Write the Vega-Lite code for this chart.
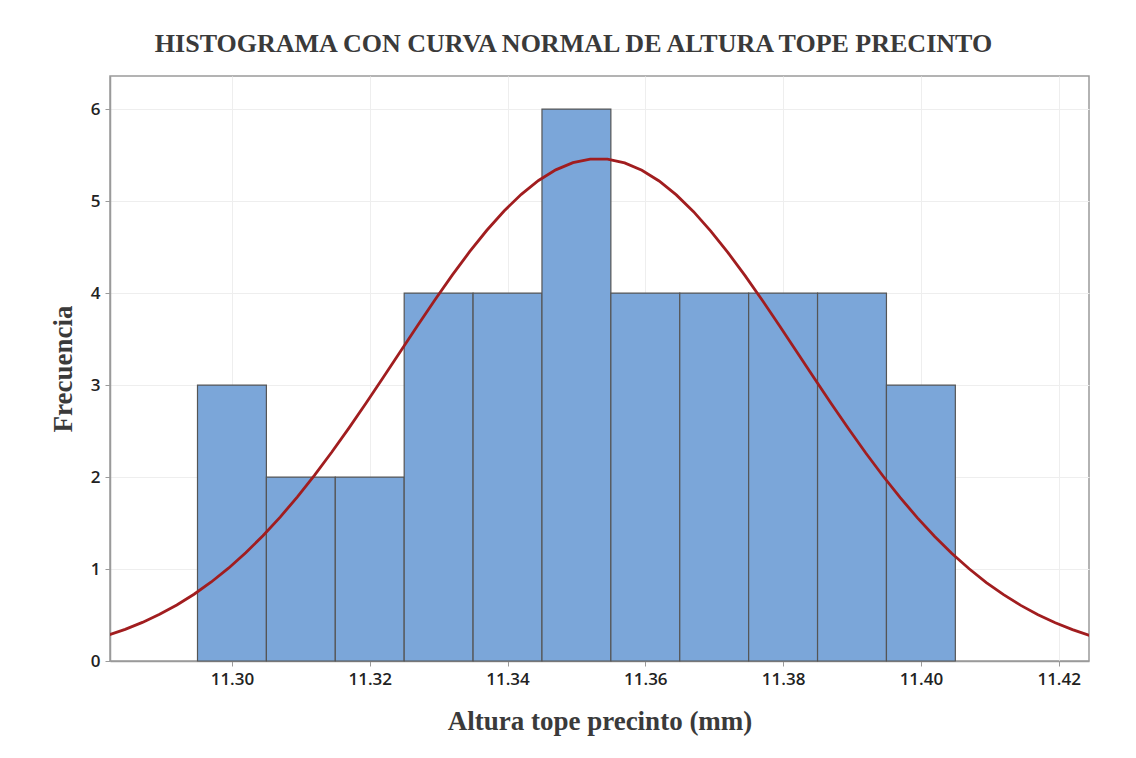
{
  "$schema": "https://vega.github.io/schema/vega-lite/v6.json",
  "autosize": {"type": "none"},
  "padding": {"left": 110, "top": 76, "right": 47, "bottom": 97},
  "width": 979,
  "height": 585,
  "background": "white",
  "title": {
    "text": "HISTOGRAMA CON CURVA NORMAL DE ALTURA TOPE PRECINTO",
    "font": "Liberation Serif",
    "fontSize": 26,
    "fontWeight": "bold",
    "color": "#3a3a3a",
    "anchor": "middle",
    "frame": "group",
    "baseline": "alphabetic",
    "offset": -2,
    "dx": -26
  },
  "config": {
    "view": {"stroke": "#9a9a9a", "strokeWidth": 1.5},
    "axis": {
      "gridColor": "#eeeeee",
      "gridWidth": 1,
      "domainColor": "#9a9a9a",
      "domainWidth": 1.5,
      "tickColor": "#9a9a9a",
      "tickSize": 5,
      "labelFont": "Open Sans",
      "labelFontSize": 17,
      "labelFontWeight": 600,
      "labelColor": "#222222",
      "titleFont": "Liberation Serif",
      "titleFontSize": 27,
      "titleFontWeight": "bold",
      "titleColor": "#3a3a3a"
    }
  },
  "datasets": {
    "bins": [
      {"lo": 11.295, "hi": 11.305, "count": 3},
      {"lo": 11.305, "hi": 11.315, "count": 2},
      {"lo": 11.315, "hi": 11.325, "count": 2},
      {"lo": 11.325, "hi": 11.335, "count": 4},
      {"lo": 11.335, "hi": 11.345, "count": 4},
      {"lo": 11.345, "hi": 11.355, "count": 6},
      {"lo": 11.355, "hi": 11.365, "count": 4},
      {"lo": 11.365, "hi": 11.375, "count": 4},
      {"lo": 11.375, "hi": 11.385, "count": 4},
      {"lo": 11.385, "hi": 11.395, "count": 4},
      {"lo": 11.395, "hi": 11.405, "count": 3}
    ],
    "curve": [
      {"x": 11.2820, "f": 0.2805}, {"x": 11.2845, "f": 0.3443}, {"x": 11.2870, "f": 0.4194},
      {"x": 11.2895, "f": 0.5074}, {"x": 11.2920, "f": 0.6091}, {"x": 11.2945, "f": 0.7260},
      {"x": 11.2970, "f": 0.8589}, {"x": 11.2995, "f": 1.0088}, {"x": 11.3020, "f": 1.1765},
      {"x": 11.3045, "f": 1.3618}, {"x": 11.3070, "f": 1.5646}, {"x": 11.3095, "f": 1.7846},
      {"x": 11.3120, "f": 2.0208}, {"x": 11.3145, "f": 2.2719}, {"x": 11.3170, "f": 2.5351},
      {"x": 11.3195, "f": 2.8082}, {"x": 11.3220, "f": 3.0879}, {"x": 11.3245, "f": 3.3711},
      {"x": 11.3270, "f": 3.6533}, {"x": 11.3295, "f": 3.9303}, {"x": 11.3320, "f": 4.1973},
      {"x": 11.3345, "f": 4.4496}, {"x": 11.3370, "f": 4.6830}, {"x": 11.3395, "f": 4.8927},
      {"x": 11.3420, "f": 5.0740}, {"x": 11.3445, "f": 5.2243}, {"x": 11.3470, "f": 5.3395},
      {"x": 11.3495, "f": 5.4175}, {"x": 11.3520, "f": 5.4564}, {"x": 11.3545, "f": 5.4556},
      {"x": 11.3570, "f": 5.4150}, {"x": 11.3595, "f": 5.3356}, {"x": 11.3620, "f": 5.2189},
      {"x": 11.3645, "f": 5.0674}, {"x": 11.3670, "f": 4.8848}, {"x": 11.3695, "f": 4.6741},
      {"x": 11.3720, "f": 4.4399}, {"x": 11.3745, "f": 4.1868}, {"x": 11.3770, "f": 3.9194},
      {"x": 11.3795, "f": 3.6420}, {"x": 11.3820, "f": 3.3600}, {"x": 11.3845, "f": 3.0769},
      {"x": 11.3870, "f": 2.7972}, {"x": 11.3895, "f": 2.5245}, {"x": 11.3920, "f": 2.2615},
      {"x": 11.3945, "f": 2.0112}, {"x": 11.3970, "f": 1.7755}, {"x": 11.3995, "f": 1.5563},
      {"x": 11.4020, "f": 1.3540}, {"x": 11.4045, "f": 1.1694}, {"x": 11.4070, "f": 1.0026},
      {"x": 11.4095, "f": 0.8532}, {"x": 11.4120, "f": 0.7210}, {"x": 11.4145, "f": 0.6046},
      {"x": 11.4170, "f": 0.5036}, {"x": 11.4195, "f": 0.4161}, {"x": 11.4220, "f": 0.3415},
      {"x": 11.4245, "f": 0.2782}
    ]
  },
  "layer": [
    {
      "data": {"name": "bins"},
      "mark": {"type": "bar", "fill": "#7BA6D9", "stroke": "#555555", "strokeWidth": 1.2},
      "encoding": {
        "x": {
          "field": "lo",
          "type": "quantitative",
          "scale": {"domain": [11.2823, 11.4244], "nice": false, "zero": false},
          "axis": {
            "title": "Altura tope precinto (mm)",
            "values": [11.30, 11.32, 11.34, 11.36, 11.38, 11.40, 11.42],
            "format": ".2f",
            "labelPadding": 5,
            "titlePadding": 21
          }
        },
        "x2": {"field": "hi"},
        "y": {
          "field": "count",
          "type": "quantitative",
          "scale": {"domain": [0, 6.36], "nice": false},
          "axis": {
            "title": "Frecuencia",
            "values": [0, 1, 2, 3, 4, 5, 6],
            "format": "d",
            "labelPadding": 5,
            "titlePadding": 13
          }
        },
        "y2": {"datum": 0}
      }
    },
    {
      "data": {"name": "curve"},
      "mark": {"type": "line", "color": "#A11D1F", "strokeWidth": 2.8, "clip": true},
      "encoding": {
        "x": {"field": "x", "type": "quantitative"},
        "y": {"field": "f", "type": "quantitative"}
      }
    }
  ]
}
